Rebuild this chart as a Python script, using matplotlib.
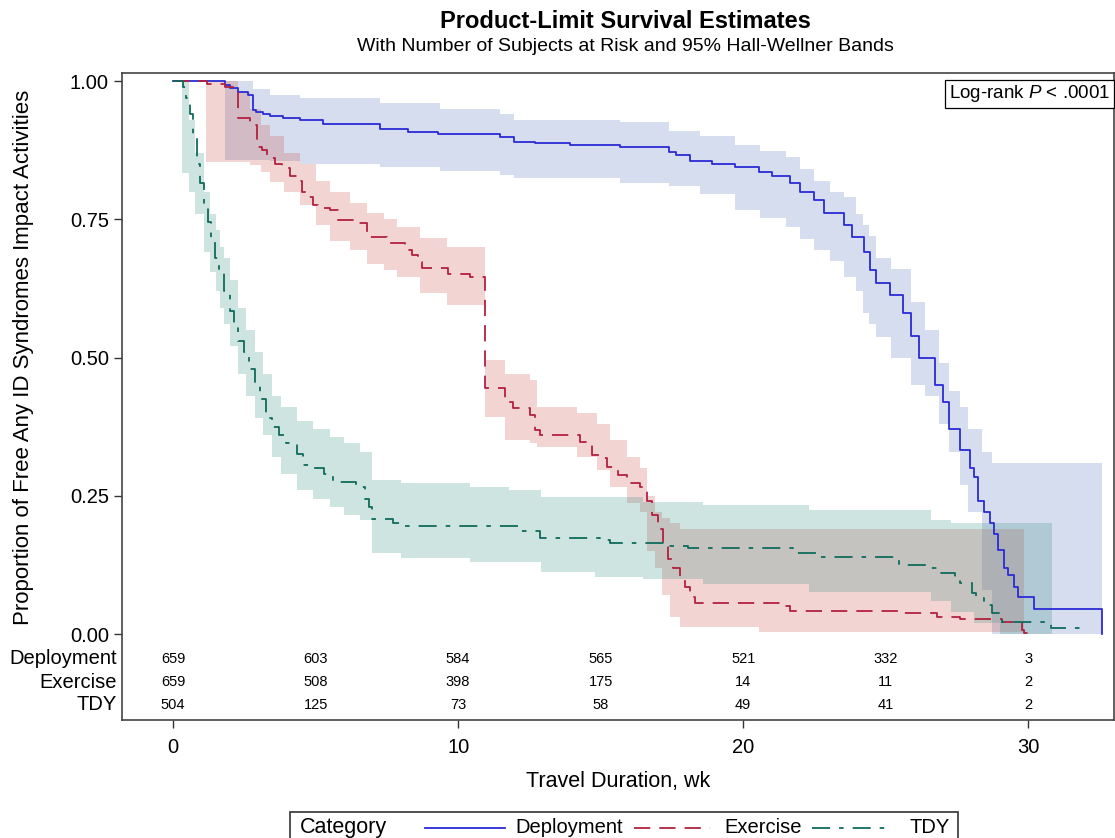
import matplotlib
matplotlib.use("Agg")
import matplotlib.pyplot as plt
from matplotlib.lines import Line2D
from matplotlib.patches import Rectangle
import matplotlib.transforms as mtransforms

plt.rcParams['font.family'] = ['Liberation Sans', 'DejaVu Sans']
plt.rcParams['mathtext.fontset'] = 'custom'
plt.rcParams['mathtext.it'] = 'Liberation Sans:italic'
plt.rcParams['mathtext.rm'] = 'Liberation Sans'

# ---- Kaplan-Meier step estimates (weeks, survival) ----
dep_t = [0, 1.82, 2.00, 2.28, 2.63, 2.80, 2.91, 3.15, 3.40, 3.86, 4.45, 5.26, 7.26, 8.24, 9.29,
         11.46, 11.95, 12.69, 13.92, 15.67, 17.39, 17.63, 18.12, 18.89, 19.70, 20.54, 21.00,
         21.63, 21.98, 22.47, 22.85, 23.55, 23.80, 24.25, 24.43, 24.64, 25.13, 25.62, 25.90,
         26.18, 26.71, 26.99, 27.23, 27.62, 27.94, 28.11, 28.25, 28.46, 28.64, 28.81, 28.95,
         29.13, 29.27, 29.51, 29.62, 30.21, 32.60]
dep_s = [1.0, 0.993, 0.987, 0.98, 0.975, 0.948, 0.944, 0.94, 0.937, 0.933, 0.929, 0.922, 0.913,
         0.908, 0.904, 0.899, 0.89, 0.887, 0.885, 0.881, 0.872, 0.866, 0.856, 0.85, 0.844, 0.835,
         0.828, 0.815, 0.80, 0.785, 0.761, 0.74, 0.718, 0.69, 0.658, 0.635, 0.613, 0.58, 0.538,
         0.50, 0.45, 0.42, 0.37, 0.333, 0.30, 0.284, 0.24, 0.22, 0.2, 0.18, 0.152, 0.12, 0.107,
         0.085, 0.067, 0.045, 0.0]

exe_t = [0, 1.19, 1.82, 2.28, 2.70, 2.94, 3.12, 3.29, 3.58, 3.82, 4.10, 4.35, 4.52, 4.70, 4.91,
         5.08, 5.50, 5.78, 6.45, 6.80, 7.50, 8.13, 8.38, 8.59, 8.73, 9.64, 10.41, 10.94, 11.64,
         11.92, 12.51, 12.69, 12.86, 14.27, 14.69, 14.97, 15.21, 15.60, 15.91, 16.37, 16.61,
         16.79, 17.00, 17.17, 17.35, 17.53, 17.77, 17.95, 18.12, 18.30, 21.28, 21.63, 25.48,
         26.78, 27.59, 29.09, 29.76, 29.86, 30.21]
exe_s = [1.0, 0.995, 0.99, 0.933, 0.92, 0.88, 0.875, 0.86, 0.85, 0.843, 0.828, 0.82, 0.80, 0.79,
         0.776, 0.77, 0.767, 0.749, 0.743, 0.718, 0.707, 0.694, 0.685, 0.673, 0.662, 0.651,
         0.646, 0.445, 0.42, 0.409, 0.396, 0.369, 0.36, 0.347, 0.324, 0.318, 0.302, 0.288,
         0.273, 0.266, 0.24, 0.215, 0.19, 0.165, 0.135, 0.12, 0.10, 0.085, 0.067, 0.056, 0.05,
         0.042, 0.038, 0.031, 0.027, 0.022, 0.007, 0.002, 0.002]

tdy_t = [0, 0.35, 0.46, 0.60, 0.70, 0.84, 0.95, 1.09, 1.23, 1.33, 1.47, 1.61, 1.79, 2.00, 2.14,
         2.28, 2.49, 2.66, 2.87, 3.05, 3.26, 3.47, 3.72, 3.96, 4.35, 4.56, 4.87, 5.29, 5.61,
         6.41, 6.73, 6.87, 6.98, 7.71, 8.06, 12.09, 12.86, 14.97, 15.32, 17.17, 18.05, 21.73,
         22.57, 25.48, 26.53, 26.81, 27.41, 27.59, 28.04, 28.18, 28.46, 28.74, 29.06, 30.81, 31.97]
tdy_s = [1.0, 0.99, 0.97, 0.94, 0.90, 0.85, 0.815, 0.78, 0.745, 0.71, 0.68, 0.655, 0.62, 0.585,
         0.56, 0.53, 0.51, 0.48, 0.45, 0.425, 0.39, 0.375, 0.36, 0.345, 0.325, 0.305, 0.30,
         0.29, 0.275, 0.265, 0.245, 0.23, 0.208, 0.20, 0.195, 0.187, 0.174, 0.17, 0.165, 0.16,
         0.155, 0.146, 0.139, 0.125, 0.12, 0.11, 0.10, 0.092, 0.075, 0.065, 0.052, 0.038,
         0.022, 0.011, 0.011]

# ---- 95% Hall-Wellner bands (last time = end of band) ----
dep_band_t = [1.82, 2.80, 3.40, 4.45, 7.26, 9.36, 11.46, 11.95, 15.67, 17.39, 18.47, 19.70,
              20.60, 21.49, 22.00, 22.47, 23.03, 23.55, 23.97, 24.20, 24.40, 24.64, 25.20,
              25.90, 26.36, 26.85, 27.23, 27.62, 27.87, 28.36, 28.74, 32.60]
dep_band_hi = [1.0, 0.985, 0.975, 0.97, 0.96, 0.95, 0.94, 0.93, 0.925, 0.91, 0.90, 0.884,
               0.873, 0.862, 0.84, 0.82, 0.80, 0.79, 0.76, 0.74, 0.72, 0.68, 0.66, 0.60, 0.55,
               0.49, 0.44, 0.41, 0.37, 0.33, 0.31, 0.31]
dep_band_lo = [0.857, 0.857, 0.855, 0.85, 0.845, 0.838, 0.83, 0.825, 0.816, 0.81, 0.795,
               0.767, 0.752, 0.736, 0.715, 0.694, 0.675, 0.645, 0.62, 0.58, 0.56, 0.537, 0.50,
               0.45, 0.43, 0.38, 0.33, 0.27, 0.22, 0.08, 0.0, 0.0]

exe_band_t = [1.16, 2.28, 2.70, 3.10, 3.40, 3.90, 4.45, 5.00, 5.50, 6.20, 6.80, 7.40, 7.85,
              8.66, 9.60, 10.94, 11.64, 12.51, 12.76, 14.16, 14.86, 15.32, 15.91, 16.37, 16.61,
              16.89, 17.14, 17.42, 17.77, 20.57, 29.86]
exe_band_hi = [1.0, 0.98, 0.95, 0.92, 0.90, 0.87, 0.85, 0.82, 0.80, 0.78, 0.761, 0.75, 0.736,
               0.716, 0.70, 0.495, 0.47, 0.46, 0.41, 0.40, 0.38, 0.35, 0.32, 0.30, 0.25, 0.22,
               0.21, 0.20, 0.19, 0.19, 0.19]
exe_band_lo = [0.853, 0.853, 0.848, 0.835, 0.817, 0.80, 0.776, 0.74, 0.71, 0.694, 0.67, 0.658,
               0.645, 0.617, 0.595, 0.392, 0.351, 0.345, 0.338, 0.32, 0.297, 0.266, 0.237,
               0.22, 0.15, 0.12, 0.07, 0.03, 0.012, 0.004, 0.0]

tdy_band_t = [0.32, 0.55, 0.78, 1.10, 1.30, 1.50, 1.65, 1.79, 2.00, 2.28, 2.55, 2.87, 3.15,
              3.47, 3.80, 4.35, 4.90, 5.50, 6.00, 6.55, 6.98, 8.00, 10.40, 11.80, 12.90, 14.80,
              16.50, 18.60, 22.30, 26.60, 27.30, 28.10, 29.00, 30.84]
tdy_band_hi = [1.0, 0.93, 0.87, 0.80, 0.76, 0.73, 0.70, 0.68, 0.64, 0.59, 0.55, 0.51, 0.47,
               0.43, 0.41, 0.385, 0.37, 0.356, 0.345, 0.33, 0.278, 0.273, 0.266, 0.26, 0.248,
               0.248, 0.239, 0.233, 0.224, 0.206, 0.20, 0.20, 0.20, 0.20]
tdy_band_lo = [0.834, 0.80, 0.76, 0.69, 0.655, 0.62, 0.59, 0.56, 0.52, 0.47, 0.43, 0.39, 0.36,
               0.32, 0.29, 0.26, 0.245, 0.23, 0.215, 0.206, 0.146, 0.137, 0.13, 0.13, 0.112,
               0.104, 0.10, 0.09, 0.076, 0.06, 0.04, 0.02, 0.0, 0.0]

# ---- number at risk ----
risk_times = [0, 5, 10, 15, 20, 25, 30]
risk_labels = ['Deployment', 'Exercise', 'TDY']
risk_dep = [659, 603, 584, 565, 521, 332, 3]
risk_exe = [659, 508, 398, 175, 14, 11, 2]
risk_tdy = [504, 125, 73, 58, 49, 41, 2]

blue, red, green = '#2b2bd6', '#b2213f', '#0f6b5c'

fig = plt.figure(figsize=(11.15, 8.38), dpi=100)
ax = fig.add_axes([0.1094, 0.1408, 0.8896, 0.7721])

# bands
ax.fill_between(dep_band_t, dep_band_lo, dep_band_hi, step='post', color='#6a87c9', alpha=0.28, lw=0)
ax.fill_between(exe_band_t, exe_band_lo, exe_band_hi, step='post', color='#d0625a', alpha=0.27, lw=0)
ax.fill_between(tdy_band_t, tdy_band_lo, tdy_band_hi, step='post', color='#3f9488', alpha=0.25, lw=0)

# survival curves
ax.step(dep_t, dep_s, where='post', color=blue, lw=1.3)
ax.step(exe_t, exe_s, where='post', color=red, lw=1.3, dashes=(9, 5))
ax.step(tdy_t, tdy_s, where='post', color=green, lw=1.3, dashes=(10, 5, 2.5, 5))

ax.set_xlim(-1.79, 33.0)
ax.set_ylim(-0.1555, 1.0145)
ax.set_xticks([0, 10, 20, 30])
ax.set_yticks([0, 0.25, 0.5, 0.75, 1.0])
ax.set_yticklabels(['0.00', '0.25', '0.50', '0.75', '1.00'])
ax.tick_params(axis='both', labelsize=14.5, length=6, width=1, direction='out', color='#333333')
ax.tick_params(axis='x', pad=7)
for sp in ax.spines.values():
    sp.set_color('#444444')
    sp.set_linewidth(1.2)

# at-risk table inside the plot area
row_y = [-0.045, -0.087, -0.128]
trans = mtransforms.blended_transform_factory(ax.transAxes, ax.transData)
for yy, lab, counts in zip(row_y, risk_labels, [risk_dep, risk_exe, risk_tdy]):
    ax.text(-0.005, yy, lab, transform=trans, ha='right', va='center', fontsize=14.5)
    for tt, n in zip(risk_times, counts):
        ax.text(tt, yy, str(n), ha='center', va='center', fontsize=10.5)

ax.set_ylabel('Proportion of Free Any ID Syndromes Impact Activities', fontsize=16)
ax.yaxis.set_label_coords(-0.089, 0.56)
ax.set_xlabel('Travel Duration, wk', fontsize=15.5, labelpad=10)

ax.text(0.996, 0.984, 'Log-rank $P$ < .0001', transform=ax.transAxes, ha='right', va='top',
        fontsize=13.5, bbox=dict(boxstyle='square,pad=0.2', fc='white', ec='black', lw=0.9))

fig.text(0.5605, 0.974, 'Product-Limit Survival Estimates', ha='center', va='center',
         fontsize=17, fontweight='bold')
fig.text(0.5605, 0.944, 'With Number of Subjects at Risk and 95% Hall-Wellner Bands',
         ha='center', va='center', fontsize=14)

# legend box at the bottom
fig.add_artist(Rectangle((0.260, -0.02), 0.599, 0.051, transform=fig.transFigure,
                         fc='white', ec='#333333', lw=1.2))
ly = 0.0125
fig.text(0.269, ly, 'Category', ha='left', va='center', fontsize=15.5)
fig.add_artist(Line2D([0.381, 0.453], [ly, ly], transform=fig.transFigure, color=blue, lw=1.3))
fig.text(0.462, ly, 'Deployment', ha='left', va='center', fontsize=14.5)
fig.add_artist(Line2D([0.569, 0.637], [ly, ly], transform=fig.transFigure, color=red, lw=1.3,
                      dashes=(9, 5)))
fig.text(0.650, ly, 'Exercise', ha='left', va='center', fontsize=14.5)
fig.add_artist(Line2D([0.728, 0.794], [ly, ly], transform=fig.transFigure, color=green, lw=1.3,
                      dashes=(10, 5, 2.5, 5)))
fig.text(0.816, ly, 'TDY', ha='left', va='center', fontsize=14.5)

fig.savefig('out.png', dpi=100)
